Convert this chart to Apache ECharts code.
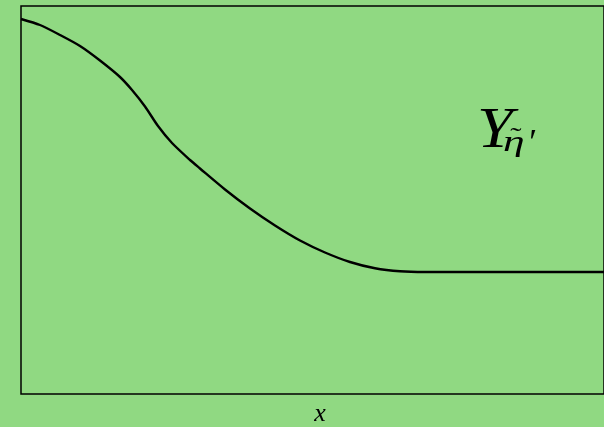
<!DOCTYPE html>
<html>
<head>
<meta charset="utf-8">
<script src="https://cdn.jsdelivr.net/npm/echarts@6/dist/echarts.min.js"></script>
<style>
  html, body { margin: 0; padding: 0; background: #90d982; }
  #chart { width: 604px; height: 427px; }
</style>
</head>
<body>
<div id="chart"></div>
<script>
// Profile of the abundance along x (normalised units)
const xValues = [0, 0.0326, 0.0669, 0.1012, 0.1355, 0.1698, 0.1904, 0.2127, 0.2350, 0.2590,
                 0.2899, 0.3070, 0.3499, 0.3928, 0.4357, 0.4786, 0.5214, 0.5643, 0.6072,
                 0.6501, 0.6930, 0.8216, 1.0];
const yValues = [0.9665, 0.9510, 0.9253, 0.8969, 0.8595, 0.8170, 0.7835, 0.7410, 0.6907, 0.6469,
                 0.6031, 0.5812, 0.5271, 0.4781, 0.4343, 0.3956, 0.3647, 0.3402, 0.3240,
                 0.3162, 0.3144, 0.3144, 0.3144];
const curveLabel = 'Y';
const curveSub = 'η';
const subTilde = '˜';
const subPrime = '′';
const axisName = 'x';

const serif = '"Liberation Serif", "DejaVu Serif", serif';
const chart = echarts.init(document.getElementById('chart'));
chart.setOption({
  backgroundColor: '#90d982',
  animation: false,
  grid: {
    left: 21, top: 6, right: 0, bottom: 33,
    show: true, borderColor: '#000', borderWidth: 1.5,
    backgroundColor: 'transparent'
  },
  xAxis: {
    type: 'value', min: 0, max: 1,
    axisLine: { show: false }, axisTick: { show: false },
    axisLabel: { show: false }, splitLine: { show: false }
  },
  yAxis: {
    type: 'value', min: 0, max: 1,
    axisLine: { show: false }, axisTick: { show: false },
    axisLabel: { show: false }, splitLine: { show: false }
  },
  series: [{
    type: 'line',
    data: xValues.map((x, i) => [x, yValues[i]]),
    smooth: 0.25,
    showSymbol: false,
    lineStyle: { color: '#000', width: 2.4 }
  }],
  graphic: [
    {
      type: 'text', x: 477, y: 132, scaleX: 1.15,
      style: { text: curveLabel, font: 'italic 56px ' + serif, fill: '#000',
               align: 'left', verticalAlign: 'middle' }
    },
    {
      type: 'text', x: 503, y: 143, scaleX: 1.45,
      style: { text: curveSub, font: 'italic 30px ' + serif, fill: '#000',
               align: 'left', verticalAlign: 'middle' }
    },
    {
      type: 'text', x: 516, y: 125, scaleX: 1.3,
      style: { text: subTilde, font: '26px ' + serif, fill: '#000',
               align: 'center', verticalAlign: 'top' }
    },
    {
      type: 'text', x: 531, y: 127,
      style: { text: subPrime, font: 'italic 36px ' + serif, fill: '#000',
               align: 'center', verticalAlign: 'top' }
    },
    {
      type: 'text', x: 320, y: 414,
      style: { text: axisName, font: 'italic 26px ' + serif, fill: '#000',
               align: 'center', verticalAlign: 'middle' }
    }
  ]
});
</script>
</body>
</html>
